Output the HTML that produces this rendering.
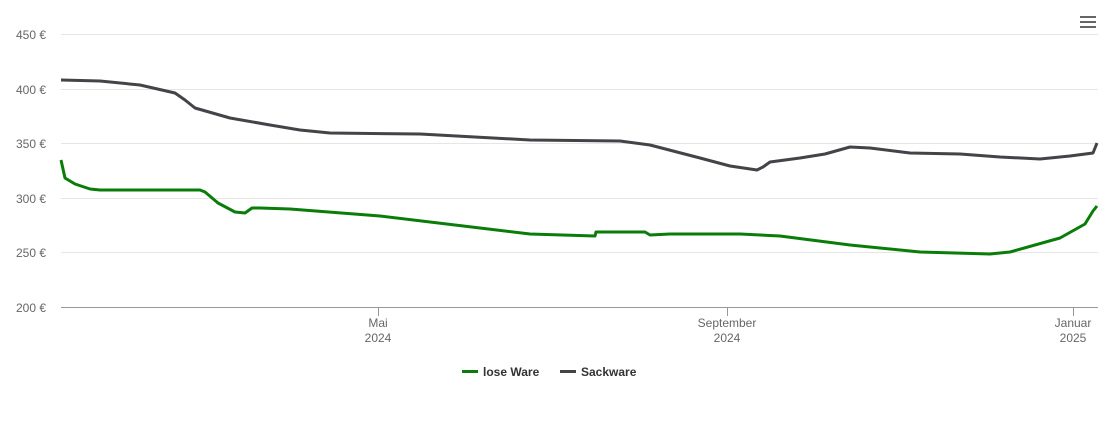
<!DOCTYPE html>
<html><head><meta charset="utf-8"><style>
body{margin:0;background:#fff;font-family:"Liberation Sans",sans-serif}
svg{display:block}
</style></head><body>
<svg width="1110" height="422" xmlns="http://www.w3.org/2000/svg">
<g stroke="#e6e6e6" stroke-width="1">
<line x1="61" x2="1098" y1="34.5" y2="34.5"/>
<line x1="61" x2="1098" y1="89.5" y2="89.5"/>
<line x1="61" x2="1098" y1="143.5" y2="143.5"/>
<line x1="61" x2="1098" y1="198.5" y2="198.5"/>
<line x1="61" x2="1098" y1="252.5" y2="252.5"/>
</g>
<line x1="61" x2="1098" y1="307.5" y2="307.5" stroke="#999" stroke-width="1"/>
<g stroke="#999"><line x1="378.5" x2="378.5" y1="307" y2="316"/><line x1="727.5" x2="727.5" y1="307" y2="316"/><line x1="1073.5" x2="1073.5" y1="307" y2="316"/></g>
<g font-size="12" fill="#666" text-anchor="end">
<text x="46" y="39">450 €</text><text x="46" y="94">400 €</text><text x="46" y="148">350 €</text>
<text x="46" y="203">300 €</text><text x="46" y="257">250 €</text><text x="46" y="312">200 €</text>
</g>
<g font-size="12" fill="#666" text-anchor="middle">
<text x="378" y="327">Mai</text><text x="378" y="342">2024</text>
<text x="727" y="327">September</text><text x="727" y="342">2024</text>
<text x="1073" y="327">Januar</text><text x="1073" y="342">2025</text>
</g>
<path fill="none" stroke="#434348" stroke-width="3" stroke-linejoin="round" d="M61,80 L100,81 L140,85 L175,93 L185,100 L195,108 L230,118 L270,125 L300,130 L330,133 L420,134 L530,140 L620,141 L650,145 L700,158 L730,166 L757,170 L763,167 L770,162 L800,158 L825,154 L850,147 L870,148 L910,153 L960,154 L1000,157 L1040,159 L1070,156 L1093,153 L1097,143"/>
<path fill="none" stroke="#0a7c0a" stroke-width="3" stroke-linejoin="round" d="M61,160 L65,178 L75,184 L90,189 L100,190 L200,190 L205,192 L218,203 L235,212 L245,213 L252,208 L260,208 L290,209 L380,216 L480,228 L530,234 L595,236 L596,232 L645,232 L650,235 L670,234 L740,234 L780,236 L850,245 L920,252 L990,254 L1010,252 L1060,238 L1085,224 L1093,211 L1097,206"/>
<g stroke="#666" stroke-width="2"><line x1="1080" x2="1096" y1="17" y2="17"/><line x1="1080" x2="1096" y1="22" y2="22"/><line x1="1080" x2="1096" y1="27" y2="27"/></g>
<line x1="462" x2="478" y1="371.5" y2="371.5" stroke="#0a7c0a" stroke-width="3"/>
<text x="483" y="376" font-size="12" font-weight="bold" fill="#333">lose Ware</text>
<line x1="560" x2="576" y1="371.5" y2="371.5" stroke="#434348" stroke-width="3"/>
<text x="581" y="376" font-size="12" font-weight="bold" fill="#333">Sackware</text>
</svg>
</body></html>
